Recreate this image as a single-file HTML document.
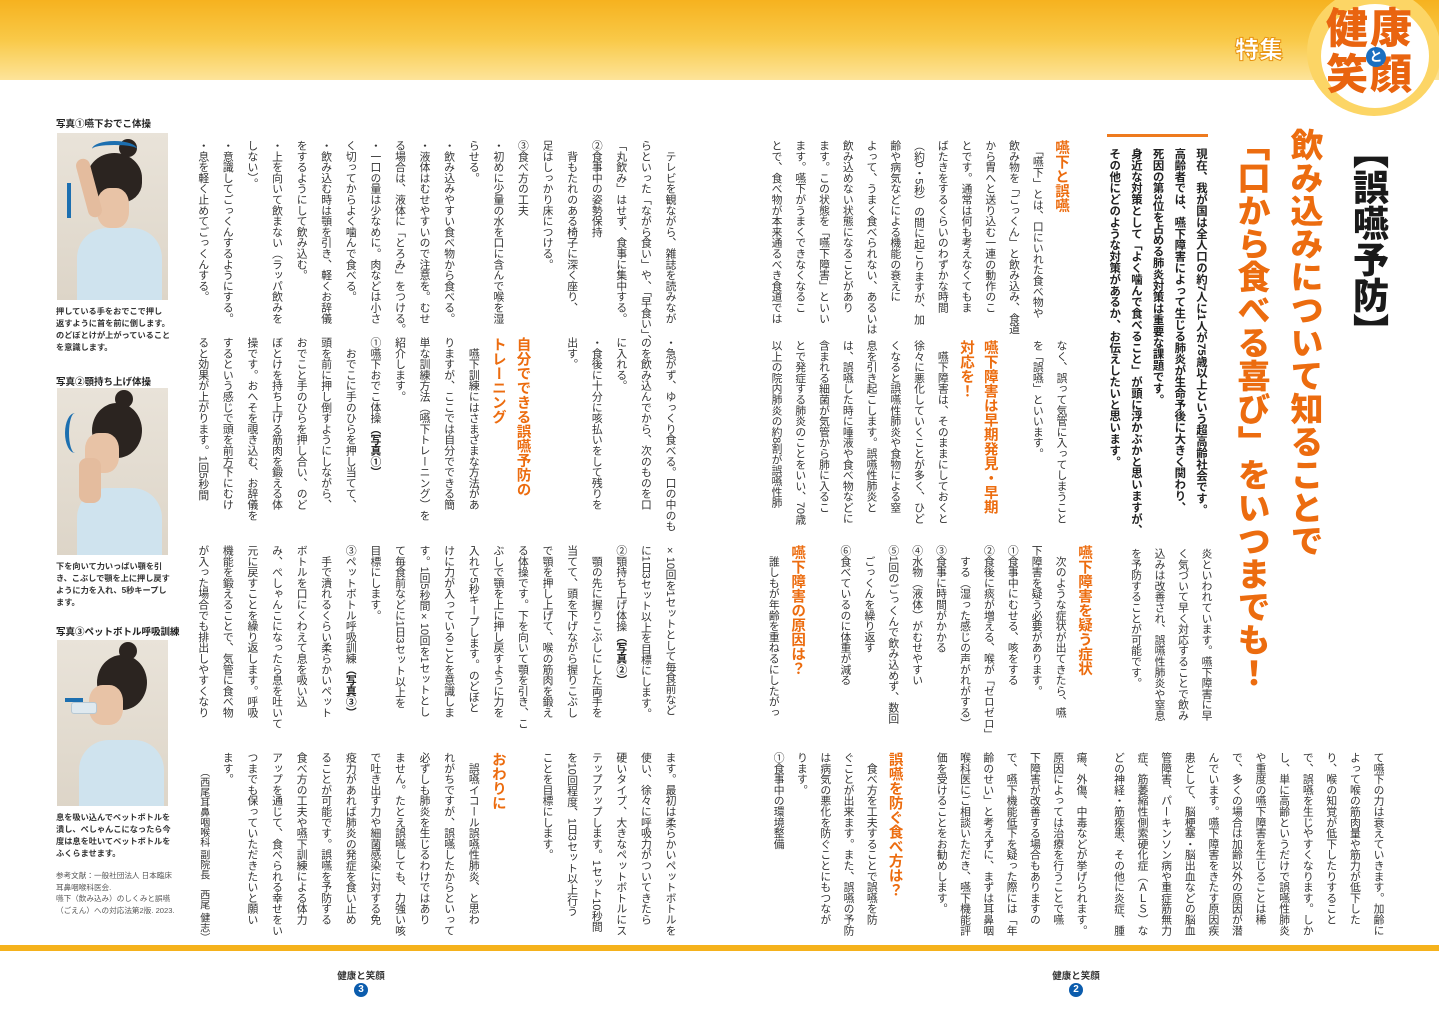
<!DOCTYPE html>
<html lang="ja"><head><meta charset="utf-8">
<style>
*{margin:0;padding:0;box-sizing:border-box}
body{width:1439px;height:1018px;background:#fff;position:relative;overflow:hidden;font-family:"Liberation Sans","Noto Sans CJK JP",sans-serif;color:#333}
.v{position:absolute;writing-mode:vertical-rl;font-size:10.8px;white-space:nowrap;color:#333}
.h{color:#ec6c0f;font-weight:bold;font-size:14.5px}
.b{font-weight:bold;color:#222}
.band{position:absolute;left:0;top:0;width:1439px;height:80px;background:linear-gradient(180deg,#f6b21f 0%,#f9c948 50%,#fde49a 100%)}
.photo{position:absolute;left:57px;width:111px;background:linear-gradient(180deg,#e9e3d9,#ddd5c8);overflow:hidden}
.cap{position:absolute;left:56px;font-size:8.2px;font-weight:bold;line-height:12px;color:#333;white-space:nowrap}
.lab{position:absolute;left:56px;font-size:9.5px;font-weight:bold;color:#222}
.pe{position:absolute}
</style></head><body>
<div class="band"></div>
<div style="position:absolute;left:1307px;top:-12px;width:134px;height:128px;border-radius:50%;background:#fcd565"></div>
<div style="position:absolute;left:1321px;top:4px;width:108px;height:104px;border-radius:50%;background:#fff"></div>
<div style="position:absolute;left:1326px;top:6px;font-size:42px;font-weight:900;color:#e9640f;line-height:46px;letter-spacing:2px">健康<br>笑顔</div>
<div style="position:absolute;left:1366px;top:47px;width:20px;height:20px;border-radius:50%;background:#1a6fc0;color:#fff;font-size:13px;font-weight:bold;text-align:center;line-height:19px">と</div>
<div style="position:absolute;left:1235px;top:30px;font-size:24px;font-weight:900;color:#fff;-webkit-text-stroke:1px #e8930f">特集</div>

<div class="v" style="right:49px;top:133px;font-size:36px;font-weight:900;color:#1a1a1a;line-height:44px">【誤嚥予防】</div>
<div class="v" style="right:108px;top:128px;font-size:33px;font-weight:900;color:#ec6c0f;line-height:53px">飲み込みについて知ることで<br>「口から食べる喜び」をいつまでも！</div>
<div style="position:absolute;left:1107px;top:134px;width:101px;height:3px;background:#ee7a1e"></div>
<div class="v b" style="right:228px;top:148px;font-size:11.4px;line-height:21.7px">現在、我が国は全人口の約7人に1人が75歳以上という超高齢社会です。<br>高齢者では、嚥下障害によって生じる肺炎が生命予後に大きく関わり、<br>死因の第3位を占める肺炎対策は重要な課題です。<br>身近な対策として「よく噛んで食べること」が頭に浮かぶかと思いますが、<br>その他にどのような対策があるか、お伝えしたいと思います。</div>

<div class="v" style="right:367px;top:140px;line-height:23.75px"><span class="h">嚥下と誤嚥</span><br>　「嚥下」とは、口にいれた食べ物や<br>飲み物を「ごっくん」と飲み込み、食道<br>から胃へと送り込む一連の動作のこ<br>とです。通常は何も考えなくてもま<br>ばたきをするくらいのわずかな時間<br>（約0・5秒）の間に起こりますが、加<br>齢や病気などによる機能の衰えに<br>よって、うまく食べられない、あるいは<br>飲み込めない状態になることがあり<br>ます。この状態を「嚥下障害」といい<br>ます。嚥下がうまくできなくなるこ<br>とで、食べ物が本来通るべき食道では</div>
<div class="v" style="right:367px;top:340px;line-height:23.75px">なく、誤って気管に入ってしまうこと<br>を「誤嚥」といいます。<br>　<br><span class="h">嚥下障害は早期発見・早期</span><br><span class="h">対応を！</span><br>　嚥下障害は、そのままにしておくと<br>徐々に悪化していくことが多く、ひど<br>くなると誤嚥性肺炎や食物による窒<br>息を引き起こします。誤嚥性肺炎と<br>は、誤嚥した時に唾液や食べ物などに<br>含まれる細菌が気管から肺に入るこ<br>とで発症する肺炎のことをいい、70歳<br>以上の院内肺炎の約8割が誤嚥性肺</div>
<div class="v" style="right:222px;top:548px;line-height:23.5px">炎といわれています。嚥下障害に早<br>く気づいて早く対応することで飲み<br>込みは改善され、誤嚥性肺炎や窒息<br>を予防することが可能です。</div>
<div class="v" style="right:344px;top:545px;line-height:23.9px"><span class="h">嚥下障害を疑う症状</span><br>　次のような症状が出てきたら、嚥<br>下障害を疑う必要があります。<br>①食事中にむせる、咳をする<br>②食後に痰が増える、喉が「ゼロゼロ」<br>　する（湿った感じの声がれがする）<br>③食事に時間がかかる<br>④水物（液体）がむせやすい<br>⑤1回のごっくんで飲み込めず、数回<br>　ごっくんを繰り返す<br>⑥食べているのに体重が減る<br>　<br><span class="h">嚥下障害の原因は？</span><br>　誰しもが年齢を重ねるにしたがっ</div>
<div class="v" style="right:50px;top:752px;line-height:23.6px">て嚥下の力は衰えていきます。加齢に<br>よって喉の筋肉量や筋力が低下した<br>り、喉の知覚が低下したりすること<br>で、誤嚥を生じやすくなります。しか<br>し、単に高齢というだけで誤嚥性肺炎<br>や重度の嚥下障害を生じることは稀<br>で、多くの場合は加齢以外の原因が潜<br>んでいます。嚥下障害をきたす原因疾<br>患として、脳梗塞・脳出血などの脳血<br>管障害、パーキンソン病や重症筋無力<br>症、筋萎縮性側索硬化症（ＡＬＳ）な<br>どの神経・筋疾患、その他に炎症、腫</div>
<div class="v" style="right:347px;top:752px;line-height:23.3px">瘍、外傷、中毒などが挙げられます。<br>原因によっては治療を行うことで嚥<br>下障害が改善する場合もありますの<br>で、嚥下機能低下を疑った際には「年<br>齢のせい」と考えずに、まずは耳鼻咽<br>喉科医にご相談いただき、嚥下機能評<br>価を受けることをお勧めします。<br>　<br><span class="h">誤嚥を防ぐ食べ方は？</span><br>　食べ方を工夫することで誤嚥を防<br>ぐことが出来ます。また、誤嚥の予防<br>は病気の悪化を防ぐことにもつなが<br>ります。<br>①食事中の環境整備</div>

<div class="v" style="right:757px;top:140px;line-height:24.6px">　テレビを観ながら、雑誌を読みなが<br>らといった「ながら食い」や、「早食い」、<br>「丸飲み」はせず、食事に集中する。<br>②食事中の姿勢保持<br>　背もたれのある椅子に深く座り、<br>足はしっかり床につける。<br>③食べ方の工夫<br>・初めに少量の水を口に含んで喉を湿<br>らせる。<br>・飲み込みやすい食べ物から食べる。<br>・液体はむせやすいので注意を。むせ<br>る場合は、液体に「とろみ」をつける。<br>・一口の量は少なめに。肉などは小さ<br>く切ってからよく噛んで食べる。<br>・飲み込む時は顎を引き、軽くお辞儀<br>をするようにして飲み込む。<br>・上を向いて飲まない（ラッパ飲みを<br>しない）。<br>・意識してごっくんするようにする。<br>・息を軽く止めてごっくんする。</div>
<div class="v" style="right:757px;top:337px;line-height:24.6px">・急がず、ゆっくり食べる。口の中のも<br>のを飲み込んでから、次のものを口<br>に入れる。<br>・食後に十分に咳払いをして残りを<br>出す。<br>　<br><span class="h">自分でできる誤嚥予防の</span><br><span class="h">トレーニング</span><br>　嚥下訓練にはさまざまな方法があ<br>りますが、ここでは自分でできる簡<br>単な訓練方法（嚥下トレーニング）を<br>紹介します。<br>①嚥下おでこ体操<span class="b">（写真①）</span><br>　おでこに手のひらを押し当てて、<br>頭を前に押し倒すようにしながら、<br>おでこと手のひらを押し合い、のど<br>ぼとけを持ち上げる筋肉を鍛える体<br>操です。おへそを覗き込む、お辞儀を<br>するという感じで頭を前方下にむけ<br>ると効果が上がります。1回5秒間</div>
<div class="v" style="right:757px;top:545px;line-height:24.6px">×10回を1セットとして毎食前など<br>に1日3セット以上を目標にします。<br>②顎持ち上げ体操<span class="b">（写真②）</span><br>　顎の先に握りこぶしにした両手を<br>当てて、頭を下げながら握りこぶし<br>で顎を押し上げて、喉の筋肉を鍛え<br>る体操です。下を向いて顎を引き、こ<br>ぶしで顎を上に押し戻すように力を<br>入れて5秒キープします。のどぼと<br>けに力が入っていることを意識しま<br>す。1回5秒間×10回を1セットとし<br>て毎食前などに1日3セット以上を<br>目標にします。<br>③ペットボトル呼吸訓練<span class="b">（写真③）</span><br>　手で潰れるくらい柔らかいペット<br>ボトルを口にくわえて息を吸い込<br>み、ぺしゃんこになったら息を吐いて<br>元に戻すことを繰り返します。呼吸<br>機能を鍛えることで、気管に食べ物<br>が入った場合でも排出しやすくなり</div>
<div class="v" style="right:757px;top:752px;line-height:24.6px">ます。最初は柔らかいペットボトルを<br>使い、徐々に呼吸力がついてきたら<br>硬いタイプ、大きなペットボトルにス<br>テップアップします。1セット10秒間<br>を10回程度、1日3セット以上行う<br>ことを目標にします。<br>　<br><span class="h">おわりに</span><br>　誤嚥イコール誤嚥性肺炎、と思わ<br>れがちですが、誤嚥したからといって<br>必ずしも肺炎を生じるわけではあり<br>ません。たとえ誤嚥しても、力強い咳<br>で吐き出す力や細菌感染に対する免<br>疫力があれば肺炎の発症を食い止め<br>ることが可能です。誤嚥を予防する<br>食べ方の工夫や嚥下訓練による体力<br>アップを通じて、食べられる幸せをい<br>つまでも保っていただきたいと願い<br>ます。<br><span style="font-size:10px">　　（西尾耳鼻咽喉科 副院長　西尾 健志）</span></div>

<div class="lab" style="top:116px">写真①嚥下おでこ体操</div>
<div class="photo" style="top:133px;height:167px">
  <div class="pe" style="left:30px;top:20px;width:55px;height:50px;border-radius:50% 50% 40% 40%;background:#2b2420"></div>
  <div class="pe" style="left:62px;top:6px;width:18px;height:18px;border-radius:50%;background:#2b2420"></div>
  <div class="pe" style="left:40px;top:55px;width:32px;height:40px;border-radius:40%;background:#e8c3a6"></div>
  <div class="pe" style="left:20px;top:95px;width:85px;height:80px;border-radius:30px 30px 0 0;background:#cfe3ee"></div>
  <div class="pe" style="left:25px;top:25px;width:14px;height:60px;border-radius:7px;background:#e4bc9e;transform:rotate(-15deg)"></div>
  <div class="pe" style="left:10px;top:50px;width:4px;height:35px;background:#1c6fb0"></div>
  <div class="pe" style="left:35px;top:8px;width:45px;height:16px;border-top:4px solid #1c6fb0;border-radius:50% 50% 0 0"></div>
</div>
<div class="cap" style="top:306px">押している手をおでこで押し<br>返すように首を前に倒します。<br>のどぼとけが上がっていること<br>を意識します。</div>

<div class="lab" style="top:374px">写真②顎持ち上げ体操</div>
<div class="photo" style="top:388px;height:167px">
  <div class="pe" style="left:35px;top:15px;width:50px;height:55px;border-radius:50%;background:#2b2420"></div>
  <div class="pe" style="left:58px;top:2px;width:18px;height:18px;border-radius:50%;background:#2b2420"></div>
  <div class="pe" style="left:28px;top:45px;width:34px;height:40px;border-radius:40%;background:#e8c3a6"></div>
  <div class="pe" style="left:20px;top:100px;width:85px;height:80px;border-radius:30px 30px 0 0;background:#cfe3ee"></div>
  <div class="pe" style="left:22px;top:70px;width:22px;height:45px;border-radius:8px;background:#e4bc9e"></div>
  <div class="pe" style="left:8px;top:25px;width:20px;height:40px;border-left:4px solid #1c6fb0;border-radius:50% 0 0 50%"></div>
</div>
<div class="cap" style="top:561px">下を向いて力いっぱい顎を引<br>き、こぶしで顎を上に押し戻す<br>ように力を入れ、5秒キープし<br>ます。</div>

<div class="lab" style="top:624px">写真③ペットボトル呼吸訓練</div>
<div class="photo" style="top:640px;height:166px">
  <div class="pe" style="left:40px;top:15px;width:50px;height:55px;border-radius:50%;background:#2b2420"></div>
  <div class="pe" style="left:62px;top:2px;width:18px;height:18px;border-radius:50%;background:#2b2420"></div>
  <div class="pe" style="left:32px;top:45px;width:34px;height:40px;border-radius:40%;background:#e8c3a6"></div>
  <div class="pe" style="left:22px;top:100px;width:85px;height:80px;border-radius:30px 30px 0 0;background:#cfe3ee"></div>
  <div class="pe" style="left:14px;top:62px;width:26px;height:12px;border-radius:3px;background:#dfe9ef;border:1px solid #b7c8d3"></div>
  <div class="pe" style="left:8px;top:58px;width:18px;height:4px;background:#1c6fb0"></div>
</div>
<div class="cap" style="top:812px">息を吸い込んでペットボトルを<br>潰し、ぺしゃんこになったら今<br>度は息を吐いてペットボトルを<br>ふくらませます。</div>
<div style="position:absolute;left:56px;top:870px;font-size:7.6px;line-height:11.5px;color:#555;white-space:nowrap">参考文献：一般社団法人 日本臨床<br>耳鼻咽喉科医会.<br>嚥下（飲み込み）のしくみと誤嚥<br>（ごえん）への対応法第2版. 2023.</div>

<div style="position:absolute;left:0;top:945px;width:1439px;height:6px;background:#f5b21c"></div>
<div style="position:absolute;left:331px;top:968px;width:60px;text-align:center;font-size:9.5px;font-weight:bold;color:#333">健康と笑顔</div>
<div style="position:absolute;left:354px;top:983px;width:14px;height:14px;border-radius:50%;background:#0b5cad;color:#fff;font-size:10px;font-weight:bold;text-align:center;line-height:14px">3</div>
<div style="position:absolute;left:1046px;top:968px;width:60px;text-align:center;font-size:9.5px;font-weight:bold;color:#333">健康と笑顔</div>
<div style="position:absolute;left:1069px;top:983px;width:14px;height:14px;border-radius:50%;background:#0b5cad;color:#fff;font-size:10px;font-weight:bold;text-align:center;line-height:14px">2</div>
</body></html>
